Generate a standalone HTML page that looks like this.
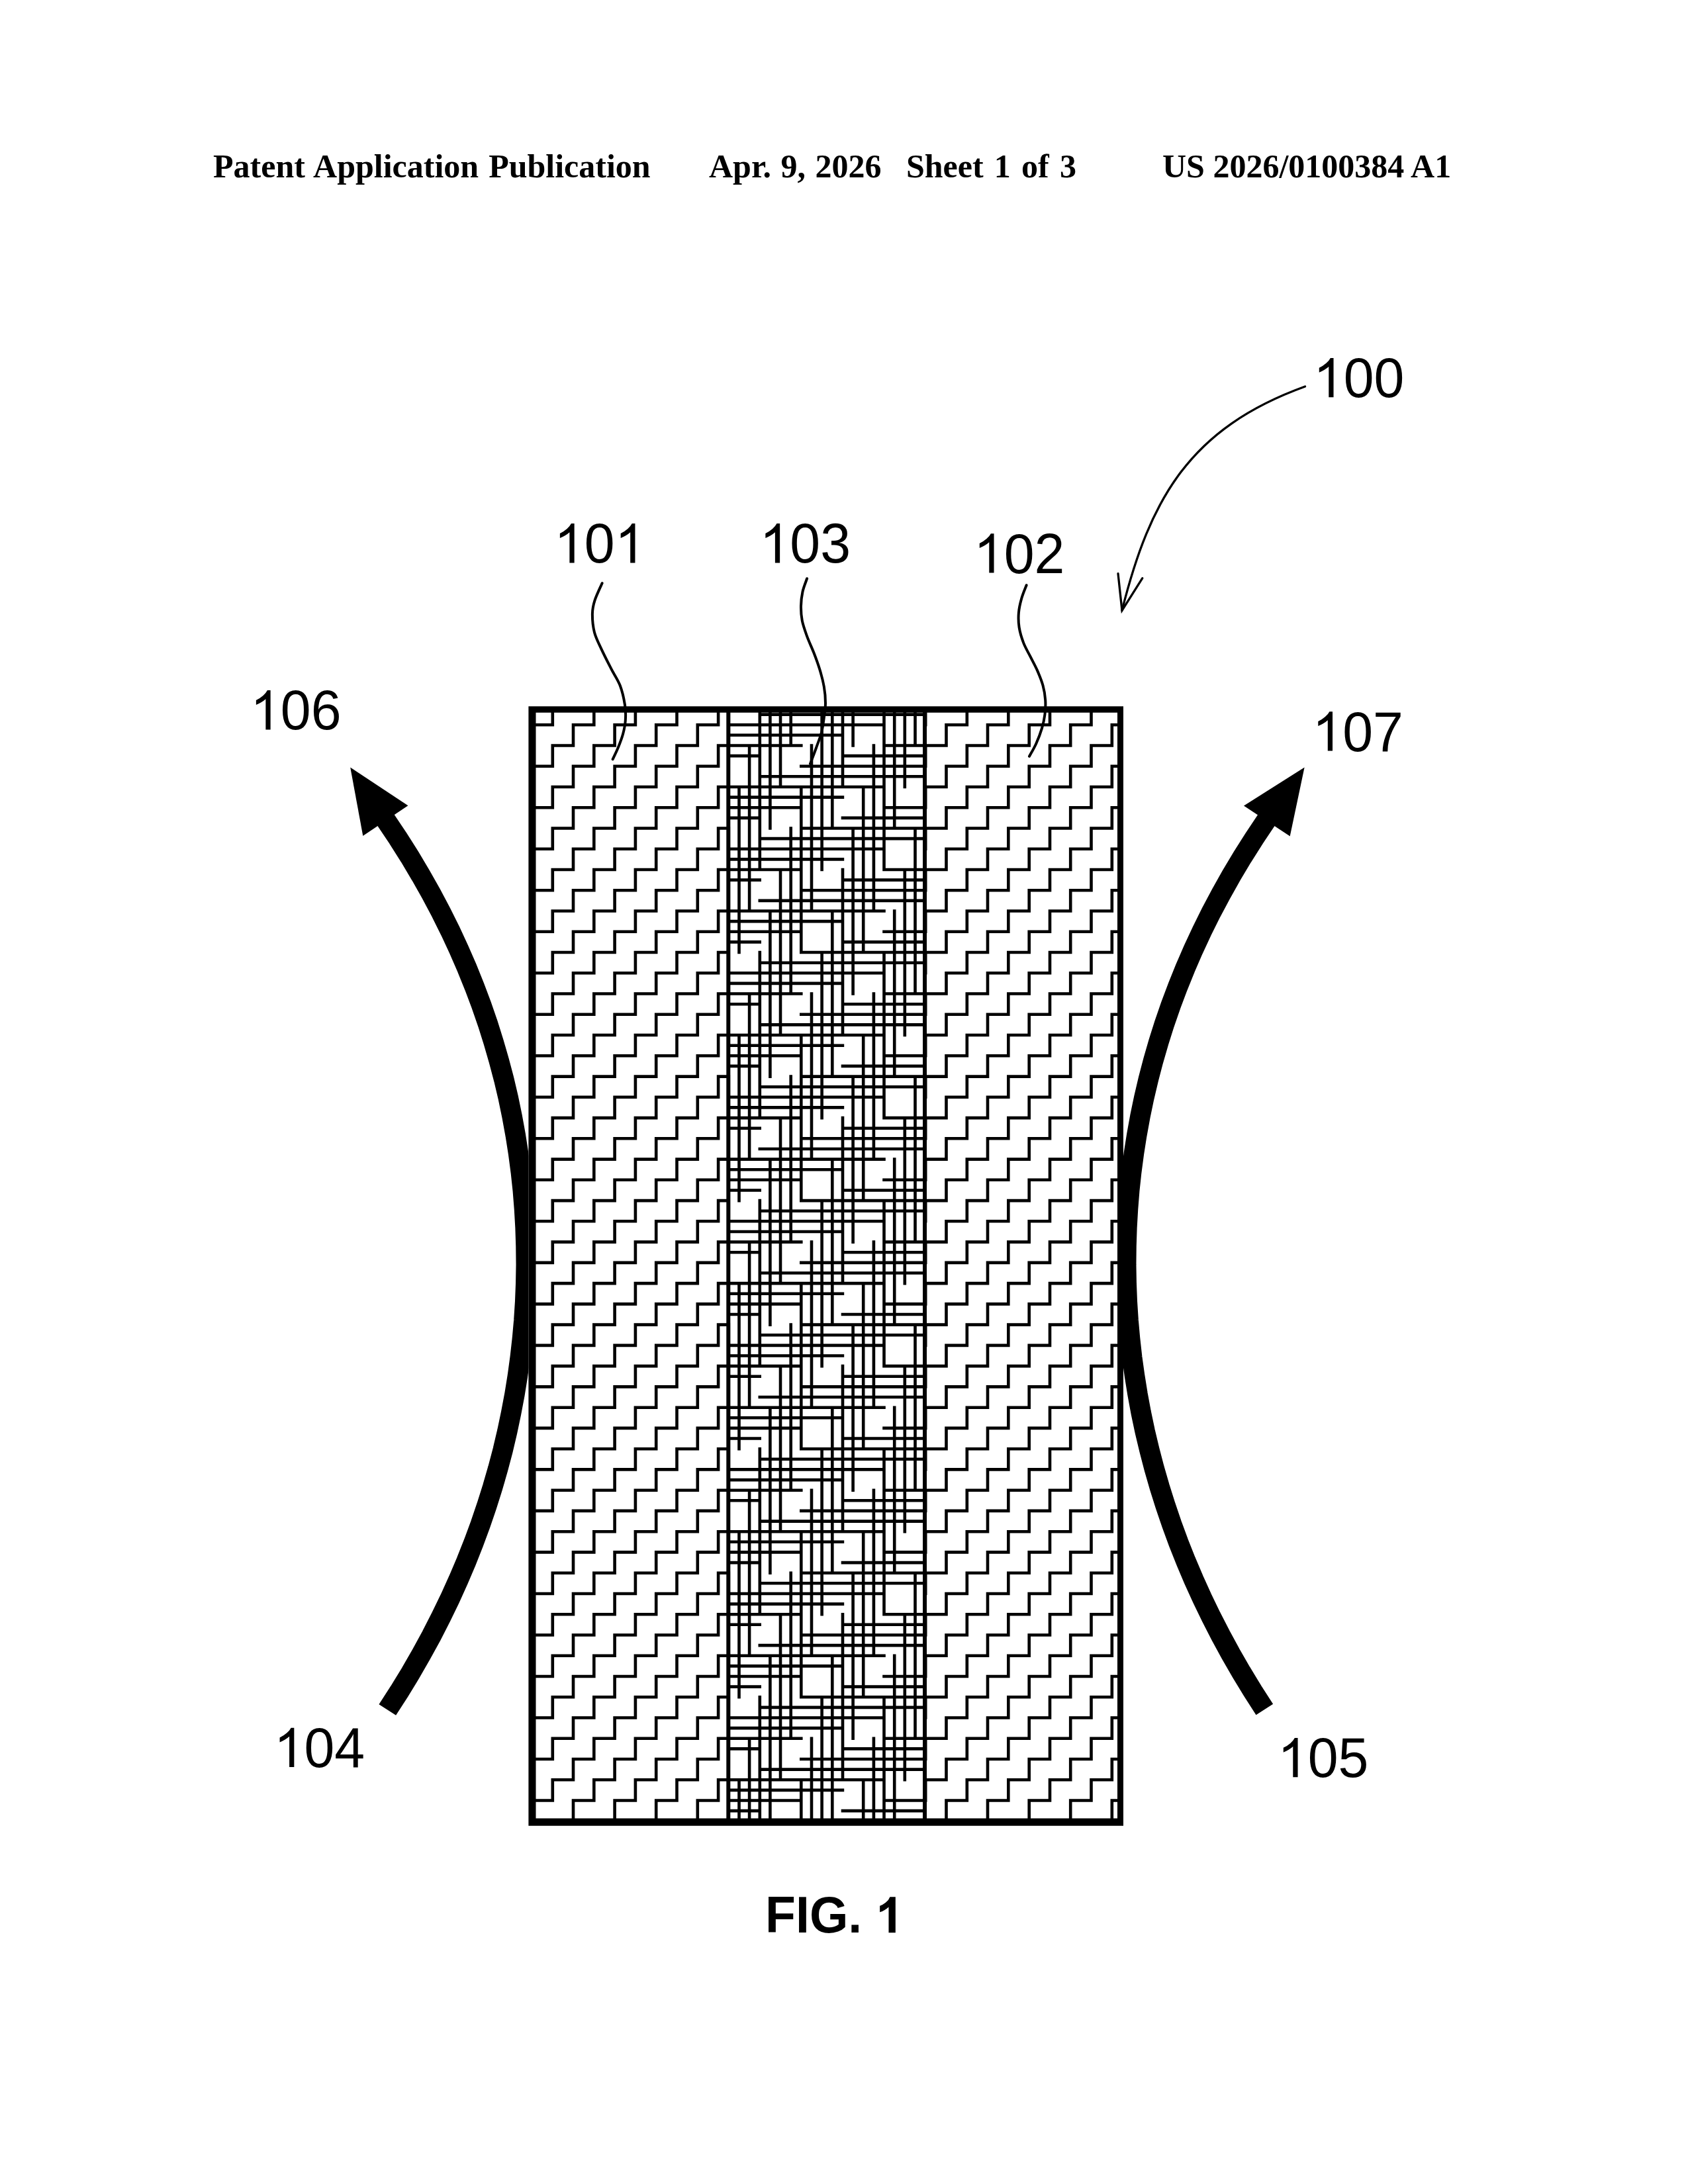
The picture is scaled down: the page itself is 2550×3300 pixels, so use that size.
<!DOCTYPE html>
<html lang="en"><head><meta charset="utf-8"><title>FIG. 1</title>
<style>
html,body{margin:0;padding:0;background:#fff;}
body{width:2550px;height:3300px;overflow:hidden;position:relative;}
svg{position:absolute;left:0;top:0;display:block;}
.hd{font-family:"Liberation Serif",serif;font-weight:bold;font-size:50px;fill:#000;}
.lb{font-family:"Liberation Sans",sans-serif;font-size:84px;fill:#000;}
.fg{font-family:"Liberation Sans",sans-serif;font-weight:bold;font-size:74px;fill:#000;}
</style></head><body>
<svg width="2550" height="3300" viewBox="0 0 2550 3300">
<defs>
<clipPath id="cl"><rect x="804" y="1072" width="296.3" height="1681"/></clipPath>
<clipPath id="cc"><rect x="1100.3" y="1072" width="296.7" height="1681"/></clipPath>
<clipPath id="cr"><rect x="1397" y="1072" width="295.5" height="1681"/></clipPath>
</defs>
<text class="hd" x="322" y="268" word-spacing="2.5">Patent Application Publication</text>
<text class="hd" x="1071" y="268" word-spacing="2">Apr. 9, 2026</text>
<text class="hd" x="1369" y="268" word-spacing="3.7">Sheet 1 of 3</text>
<text class="hd" x="1756" y="268">US 2026/0100384 A1</text>
<g fill="none" stroke="#000">
<path stroke-width="30.5" d="M585.3 2583.6L603.3 2555.6L620.4 2527.6L636.5 2499.5L651.8 2471.5L666.1 2443.5L679.7 2415.5L692.4 2387.4L704.3 2359.4L715.4 2331.4L725.7 2303.4L735.3 2275.3L744.1 2247.3L752.2 2219.3L759.6 2191.3L766.2 2163.3L772.1 2135.2L777.4 2107.2L781.9 2079.2L785.7 2051.2L788.9 2023.1L791.4 1995.1L793.2 1967.1L794.3 1939.1L794.8 1911L794.5 1883L793.6 1855L792 1827L789.8 1799L786.8 1770.9L783.1 1742.9L778.7 1714.9L773.6 1686.9L767.8 1658.8L761.2 1630.8L753.8 1602.8L745.7 1574.8L736.9 1546.8L727.2 1518.7L716.7 1490.7L705.4 1462.7L693.2 1434.7L680.2 1406.6L666.3 1378.6L651.4 1350.6L635.6 1322.6L618.9 1294.5L601.2 1266.5L582.4 1238.5"/>
<path stroke-width="30.5" d="M1910.3 2583L1892.3 2555L1875.3 2527L1859.2 2499L1844 2471L1829.6 2443L1816.1 2415L1803.4 2387L1791.5 2359L1780.4 2331L1770.1 2303L1760.6 2275L1751.8 2247L1743.7 2219L1736.4 2191L1729.7 2163L1723.8 2135L1718.6 2107L1714.1 2079L1710.2 2051L1707.1 2023L1704.6 1995L1702.8 1967L1701.7 1939L1701.2 1911L1701.5 1883L1702.4 1855L1704 1827L1706.2 1799L1709.2 1771L1712.9 1743L1717.3 1715L1722.4 1687L1728.2 1659L1734.8 1631L1742.1 1603L1750.2 1575L1759 1547L1768.7 1519L1779.2 1491L1790.5 1463L1802.6 1435L1815.6 1407L1829.5 1379L1844.4 1351L1860.1 1323L1876.8 1295L1894.5 1267L1913.2 1239"/>
</g>
<path fill="#000" d="M529.2 1159.5L616.4 1217.2L548.3 1263.1Z"/>
<path fill="#000" d="M1970.6 1159.5L1879 1217.5L1948.7 1263.4Z"/>
<rect x="798.4" y="1067.2" width="898.6" height="1691.6" fill="#fff"/>
<g fill="none" stroke="#000" stroke-width="4.6" stroke-linejoin="miter">
<path clip-path="url(#cl)" d="M740.8 1032.7L772.1 1032.7L772.1 1001.4L803.4 1001.4M740.8 1095.2L772.1 1095.2L772.1 1064L803.4 1064L803.4 1032.7L834.8 1032.7L834.8 1001.4L866 1001.4M740.8 1157.7L772.1 1157.7L772.1 1126.5L803.4 1126.5L803.4 1095.2L834.8 1095.2L834.8 1064L866 1064L866 1032.7L897.3 1032.7L897.3 1001.4L928.6 1001.4M740.8 1220.2L772.1 1220.2L772.1 1189L803.4 1189L803.4 1157.7L834.8 1157.7L834.8 1126.5L866 1126.5L866 1095.2L897.3 1095.2L897.3 1064L928.6 1064L928.6 1032.7L959.9 1032.7L959.9 1001.4L991.2 1001.4M740.8 1282.7L772.1 1282.7L772.1 1251.5L803.4 1251.5L803.4 1220.2L834.8 1220.2L834.8 1189L866 1189L866 1157.7L897.3 1157.7L897.3 1126.5L928.6 1126.5L928.6 1095.2L959.9 1095.2L959.9 1064L991.2 1064L991.2 1032.7L1022.5 1032.7L1022.5 1001.4L1053.8 1001.4M740.8 1345.3L772.1 1345.3L772.1 1314L803.4 1314L803.4 1282.7L834.8 1282.7L834.8 1251.5L866 1251.5L866 1220.2L897.3 1220.2L897.3 1189L928.6 1189L928.6 1157.7L959.9 1157.7L959.9 1126.5L991.2 1126.5L991.2 1095.2L1022.5 1095.2L1022.5 1064L1053.8 1064L1053.8 1032.7L1085.1 1032.7L1085.1 1001.4L1116.5 1001.4M740.8 1407.8L772.1 1407.8L772.1 1376.5L803.4 1376.5L803.4 1345.3L834.8 1345.3L834.8 1314L866 1314L866 1282.7L897.3 1282.7L897.3 1251.5L928.6 1251.5L928.6 1220.2L959.9 1220.2L959.9 1189L991.2 1189L991.2 1157.7L1022.5 1157.7L1022.5 1126.5L1053.8 1126.5L1053.8 1095.2L1085.1 1095.2L1085.1 1064L1116.5 1064L1116.5 1032.7L1147.8 1032.7L1147.8 1001.4L1179 1001.4M740.8 1470.3L772.1 1470.3L772.1 1439L803.4 1439L803.4 1407.8L834.8 1407.8L834.8 1376.5L866 1376.5L866 1345.3L897.3 1345.3L897.3 1314L928.6 1314L928.6 1282.7L959.9 1282.7L959.9 1251.5L991.2 1251.5L991.2 1220.2L1022.5 1220.2L1022.5 1189L1053.8 1189L1053.8 1157.7L1085.1 1157.7L1085.1 1126.5L1116.5 1126.5L1116.5 1095.2L1147.8 1095.2L1147.8 1064L1179 1064M740.8 1532.8L772.1 1532.8L772.1 1501.5L803.4 1501.5L803.4 1470.3L834.8 1470.3L834.8 1439L866 1439L866 1407.8L897.3 1407.8L897.3 1376.5L928.6 1376.5L928.6 1345.3L959.9 1345.3L959.9 1314L991.2 1314L991.2 1282.7L1022.5 1282.7L1022.5 1251.5L1053.8 1251.5L1053.8 1220.2L1085.1 1220.2L1085.1 1189L1116.5 1189L1116.5 1157.7L1147.8 1157.7L1147.8 1126.5L1179 1126.5M740.8 1595.3L772.1 1595.3L772.1 1564L803.4 1564L803.4 1532.8L834.8 1532.8L834.8 1501.5L866 1501.5L866 1470.3L897.3 1470.3L897.3 1439L928.6 1439L928.6 1407.8L959.9 1407.8L959.9 1376.5L991.2 1376.5L991.2 1345.3L1022.5 1345.3L1022.5 1314L1053.8 1314L1053.8 1282.7L1085.1 1282.7L1085.1 1251.5L1116.5 1251.5L1116.5 1220.2L1147.8 1220.2L1147.8 1189L1179 1189M740.8 1657.8L772.1 1657.8L772.1 1626.6L803.4 1626.6L803.4 1595.3L834.8 1595.3L834.8 1564L866 1564L866 1532.8L897.3 1532.8L897.3 1501.5L928.6 1501.5L928.6 1470.3L959.9 1470.3L959.9 1439L991.2 1439L991.2 1407.8L1022.5 1407.8L1022.5 1376.5L1053.8 1376.5L1053.8 1345.3L1085.1 1345.3L1085.1 1314L1116.5 1314L1116.5 1282.7L1147.8 1282.7L1147.8 1251.5L1179 1251.5M740.8 1720.3L772.1 1720.3L772.1 1689.1L803.4 1689.1L803.4 1657.8L834.8 1657.8L834.8 1626.6L866 1626.6L866 1595.3L897.3 1595.3L897.3 1564L928.6 1564L928.6 1532.8L959.9 1532.8L959.9 1501.5L991.2 1501.5L991.2 1470.3L1022.5 1470.3L1022.5 1439L1053.8 1439L1053.8 1407.8L1085.1 1407.8L1085.1 1376.5L1116.5 1376.5L1116.5 1345.3L1147.8 1345.3L1147.8 1314L1179 1314M740.8 1782.8L772.1 1782.8L772.1 1751.6L803.4 1751.6L803.4 1720.3L834.8 1720.3L834.8 1689.1L866 1689.1L866 1657.8L897.3 1657.8L897.3 1626.6L928.6 1626.6L928.6 1595.3L959.9 1595.3L959.9 1564L991.2 1564L991.2 1532.8L1022.5 1532.8L1022.5 1501.5L1053.8 1501.5L1053.8 1470.3L1085.1 1470.3L1085.1 1439L1116.5 1439L1116.5 1407.8L1147.8 1407.8L1147.8 1376.5L1179 1376.5M740.8 1845.3L772.1 1845.3L772.1 1814.1L803.4 1814.1L803.4 1782.8L834.8 1782.8L834.8 1751.6L866 1751.6L866 1720.3L897.3 1720.3L897.3 1689.1L928.6 1689.1L928.6 1657.8L959.9 1657.8L959.9 1626.6L991.2 1626.6L991.2 1595.3L1022.5 1595.3L1022.5 1564L1053.8 1564L1053.8 1532.8L1085.1 1532.8L1085.1 1501.5L1116.5 1501.5L1116.5 1470.3L1147.8 1470.3L1147.8 1439L1179 1439M740.8 1907.9L772.1 1907.9L772.1 1876.6L803.4 1876.6L803.4 1845.3L834.8 1845.3L834.8 1814.1L866 1814.1L866 1782.8L897.3 1782.8L897.3 1751.6L928.6 1751.6L928.6 1720.3L959.9 1720.3L959.9 1689.1L991.2 1689.1L991.2 1657.8L1022.5 1657.8L1022.5 1626.6L1053.8 1626.6L1053.8 1595.3L1085.1 1595.3L1085.1 1564L1116.5 1564L1116.5 1532.8L1147.8 1532.8L1147.8 1501.5L1179 1501.5M740.8 1970.4L772.1 1970.4L772.1 1939.1L803.4 1939.1L803.4 1907.9L834.8 1907.9L834.8 1876.6L866 1876.6L866 1845.3L897.3 1845.3L897.3 1814.1L928.6 1814.1L928.6 1782.8L959.9 1782.8L959.9 1751.6L991.2 1751.6L991.2 1720.3L1022.5 1720.3L1022.5 1689.1L1053.8 1689.1L1053.8 1657.8L1085.1 1657.8L1085.1 1626.6L1116.5 1626.6L1116.5 1595.3L1147.8 1595.3L1147.8 1564L1179 1564M740.8 2032.9L772.1 2032.9L772.1 2001.6L803.4 2001.6L803.4 1970.4L834.8 1970.4L834.8 1939.1L866 1939.1L866 1907.9L897.3 1907.9L897.3 1876.6L928.6 1876.6L928.6 1845.3L959.9 1845.3L959.9 1814.1L991.2 1814.1L991.2 1782.8L1022.5 1782.8L1022.5 1751.6L1053.8 1751.6L1053.8 1720.3L1085.1 1720.3L1085.1 1689.1L1116.5 1689.1L1116.5 1657.8L1147.8 1657.8L1147.8 1626.6L1179 1626.6M740.8 2095.4L772.1 2095.4L772.1 2064.1L803.4 2064.1L803.4 2032.9L834.8 2032.9L834.8 2001.6L866 2001.6L866 1970.4L897.3 1970.4L897.3 1939.1L928.6 1939.1L928.6 1907.9L959.9 1907.9L959.9 1876.6L991.2 1876.6L991.2 1845.3L1022.5 1845.3L1022.5 1814.1L1053.8 1814.1L1053.8 1782.8L1085.1 1782.8L1085.1 1751.6L1116.5 1751.6L1116.5 1720.3L1147.8 1720.3L1147.8 1689.1L1179 1689.1M740.8 2157.9L772.1 2157.9L772.1 2126.7L803.4 2126.7L803.4 2095.4L834.8 2095.4L834.8 2064.1L866 2064.1L866 2032.9L897.3 2032.9L897.3 2001.6L928.6 2001.6L928.6 1970.4L959.9 1970.4L959.9 1939.1L991.2 1939.1L991.2 1907.9L1022.5 1907.9L1022.5 1876.6L1053.8 1876.6L1053.8 1845.3L1085.1 1845.3L1085.1 1814.1L1116.5 1814.1L1116.5 1782.8L1147.8 1782.8L1147.8 1751.6L1179 1751.6M740.8 2220.4L772.1 2220.4L772.1 2189.2L803.4 2189.2L803.4 2157.9L834.8 2157.9L834.8 2126.7L866 2126.7L866 2095.4L897.3 2095.4L897.3 2064.1L928.6 2064.1L928.6 2032.9L959.9 2032.9L959.9 2001.6L991.2 2001.6L991.2 1970.4L1022.5 1970.4L1022.5 1939.1L1053.8 1939.1L1053.8 1907.9L1085.1 1907.9L1085.1 1876.6L1116.5 1876.6L1116.5 1845.3L1147.8 1845.3L1147.8 1814.1L1179 1814.1M740.8 2282.9L772.1 2282.9L772.1 2251.7L803.4 2251.7L803.4 2220.4L834.8 2220.4L834.8 2189.2L866 2189.2L866 2157.9L897.3 2157.9L897.3 2126.7L928.6 2126.7L928.6 2095.4L959.9 2095.4L959.9 2064.1L991.2 2064.1L991.2 2032.9L1022.5 2032.9L1022.5 2001.6L1053.8 2001.6L1053.8 1970.4L1085.1 1970.4L1085.1 1939.1L1116.5 1939.1L1116.5 1907.9L1147.8 1907.9L1147.8 1876.6L1179 1876.6M740.8 2345.4L772.1 2345.4L772.1 2314.2L803.4 2314.2L803.4 2282.9L834.8 2282.9L834.8 2251.7L866 2251.7L866 2220.4L897.3 2220.4L897.3 2189.2L928.6 2189.2L928.6 2157.9L959.9 2157.9L959.9 2126.7L991.2 2126.7L991.2 2095.4L1022.5 2095.4L1022.5 2064.1L1053.8 2064.1L1053.8 2032.9L1085.1 2032.9L1085.1 2001.6L1116.5 2001.6L1116.5 1970.4L1147.8 1970.4L1147.8 1939.1L1179 1939.1M740.8 2408L772.1 2408L772.1 2376.7L803.4 2376.7L803.4 2345.4L834.8 2345.4L834.8 2314.2L866 2314.2L866 2282.9L897.3 2282.9L897.3 2251.7L928.6 2251.7L928.6 2220.4L959.9 2220.4L959.9 2189.2L991.2 2189.2L991.2 2157.9L1022.5 2157.9L1022.5 2126.7L1053.8 2126.7L1053.8 2095.4L1085.1 2095.4L1085.1 2064.1L1116.5 2064.1L1116.5 2032.9L1147.8 2032.9L1147.8 2001.6L1179 2001.6M740.8 2470.5L772.1 2470.5L772.1 2439.2L803.4 2439.2L803.4 2408L834.8 2408L834.8 2376.7L866 2376.7L866 2345.4L897.3 2345.4L897.3 2314.2L928.6 2314.2L928.6 2282.9L959.9 2282.9L959.9 2251.7L991.2 2251.7L991.2 2220.4L1022.5 2220.4L1022.5 2189.2L1053.8 2189.2L1053.8 2157.9L1085.1 2157.9L1085.1 2126.7L1116.5 2126.7L1116.5 2095.4L1147.8 2095.4L1147.8 2064.1L1179 2064.1M740.8 2533L772.1 2533L772.1 2501.7L803.4 2501.7L803.4 2470.5L834.8 2470.5L834.8 2439.2L866 2439.2L866 2408L897.3 2408L897.3 2376.7L928.6 2376.7L928.6 2345.4L959.9 2345.4L959.9 2314.2L991.2 2314.2L991.2 2282.9L1022.5 2282.9L1022.5 2251.7L1053.8 2251.7L1053.8 2220.4L1085.1 2220.4L1085.1 2189.2L1116.5 2189.2L1116.5 2157.9L1147.8 2157.9L1147.8 2126.7L1179 2126.7M740.8 2595.5L772.1 2595.5L772.1 2564.2L803.4 2564.2L803.4 2533L834.8 2533L834.8 2501.7L866 2501.7L866 2470.5L897.3 2470.5L897.3 2439.2L928.6 2439.2L928.6 2408L959.9 2408L959.9 2376.7L991.2 2376.7L991.2 2345.4L1022.5 2345.4L1022.5 2314.2L1053.8 2314.2L1053.8 2282.9L1085.1 2282.9L1085.1 2251.7L1116.5 2251.7L1116.5 2220.4L1147.8 2220.4L1147.8 2189.2L1179 2189.2M740.8 2658L772.1 2658L772.1 2626.8L803.4 2626.8L803.4 2595.5L834.8 2595.5L834.8 2564.2L866 2564.2L866 2533L897.3 2533L897.3 2501.7L928.6 2501.7L928.6 2470.5L959.9 2470.5L959.9 2439.2L991.2 2439.2L991.2 2408L1022.5 2408L1022.5 2376.7L1053.8 2376.7L1053.8 2345.4L1085.1 2345.4L1085.1 2314.2L1116.5 2314.2L1116.5 2282.9L1147.8 2282.9L1147.8 2251.7L1179 2251.7M740.8 2720.5L772.1 2720.5L772.1 2689.3L803.4 2689.3L803.4 2658L834.8 2658L834.8 2626.8L866 2626.8L866 2595.5L897.3 2595.5L897.3 2564.2L928.6 2564.2L928.6 2533L959.9 2533L959.9 2501.7L991.2 2501.7L991.2 2470.5L1022.5 2470.5L1022.5 2439.2L1053.8 2439.2L1053.8 2408L1085.1 2408L1085.1 2376.7L1116.5 2376.7L1116.5 2345.4L1147.8 2345.4L1147.8 2314.2L1179 2314.2M740.8 2783L772.1 2783L772.1 2751.8L803.4 2751.8L803.4 2720.5L834.8 2720.5L834.8 2689.3L866 2689.3L866 2658L897.3 2658L897.3 2626.8L928.6 2626.8L928.6 2595.5L959.9 2595.5L959.9 2564.2L991.2 2564.2L991.2 2533L1022.5 2533L1022.5 2501.7L1053.8 2501.7L1053.8 2470.5L1085.1 2470.5L1085.1 2439.2L1116.5 2439.2L1116.5 2408L1147.8 2408L1147.8 2376.7L1179 2376.7M772.1 2814.3L803.4 2814.3L803.4 2783L834.8 2783L834.8 2751.8L866 2751.8L866 2720.5L897.3 2720.5L897.3 2689.3L928.6 2689.3L928.6 2658L959.9 2658L959.9 2626.8L991.2 2626.8L991.2 2595.5L1022.5 2595.5L1022.5 2564.2L1053.8 2564.2L1053.8 2533L1085.1 2533L1085.1 2501.7L1116.5 2501.7L1116.5 2470.5L1147.8 2470.5L1147.8 2439.2L1179 2439.2M834.8 2814.3L866 2814.3L866 2783L897.3 2783L897.3 2751.8L928.6 2751.8L928.6 2720.5L959.9 2720.5L959.9 2689.3L991.2 2689.3L991.2 2658L1022.5 2658L1022.5 2626.8L1053.8 2626.8L1053.8 2595.5L1085.1 2595.5L1085.1 2564.2L1116.5 2564.2L1116.5 2533L1147.8 2533L1147.8 2501.7L1179 2501.7M897.3 2814.3L928.6 2814.3L928.6 2783L959.9 2783L959.9 2751.8L991.2 2751.8L991.2 2720.5L1022.5 2720.5L1022.5 2689.3L1053.8 2689.3L1053.8 2658L1085.1 2658L1085.1 2626.8L1116.5 2626.8L1116.5 2595.5L1147.8 2595.5L1147.8 2564.2L1179 2564.2M959.9 2814.3L991.2 2814.3L991.2 2783L1022.5 2783L1022.5 2751.8L1053.8 2751.8L1053.8 2720.5L1085.1 2720.5L1085.1 2689.3L1116.5 2689.3L1116.5 2658L1147.8 2658L1147.8 2626.8L1179 2626.8M1022.5 2814.3L1053.8 2814.3L1053.8 2783L1085.1 2783L1085.1 2751.8L1116.5 2751.8L1116.5 2720.5L1147.8 2720.5L1147.8 2689.3L1179 2689.3M1085.1 2814.3L1116.5 2814.3L1116.5 2783L1147.8 2783L1147.8 2751.8L1179 2751.8M1147.8 2814.3L1179 2814.3"/>
<path clip-path="url(#cr)" d="M1366.8 1032.7L1398.2 1032.7L1398.2 1001.4L1429.5 1001.4M1366.8 1095.2L1398.2 1095.2L1398.2 1064L1429.5 1064L1429.5 1032.7L1460.8 1032.7L1460.8 1001.4L1492 1001.4M1366.8 1157.7L1398.2 1157.7L1398.2 1126.5L1429.5 1126.5L1429.5 1095.2L1460.8 1095.2L1460.8 1064L1492 1064L1492 1032.7L1523.3 1032.7L1523.3 1001.4L1554.7 1001.4M1366.8 1220.2L1398.2 1220.2L1398.2 1189L1429.5 1189L1429.5 1157.7L1460.8 1157.7L1460.8 1126.5L1492 1126.5L1492 1095.2L1523.3 1095.2L1523.3 1064L1554.7 1064L1554.7 1032.7L1586 1032.7L1586 1001.4L1617.2 1001.4M1366.8 1282.7L1398.2 1282.7L1398.2 1251.5L1429.5 1251.5L1429.5 1220.2L1460.8 1220.2L1460.8 1189L1492 1189L1492 1157.7L1523.3 1157.7L1523.3 1126.5L1554.7 1126.5L1554.7 1095.2L1586 1095.2L1586 1064L1617.2 1064L1617.2 1032.7L1648.5 1032.7L1648.5 1001.4L1679.8 1001.4M1366.8 1345.3L1398.2 1345.3L1398.2 1314L1429.5 1314L1429.5 1282.7L1460.8 1282.7L1460.8 1251.5L1492 1251.5L1492 1220.2L1523.3 1220.2L1523.3 1189L1554.7 1189L1554.7 1157.7L1586 1157.7L1586 1126.5L1617.2 1126.5L1617.2 1095.2L1648.5 1095.2L1648.5 1064L1679.8 1064L1679.8 1032.7L1711.2 1032.7L1711.2 1001.4L1742.4 1001.4M1366.8 1407.8L1398.2 1407.8L1398.2 1376.5L1429.5 1376.5L1429.5 1345.3L1460.8 1345.3L1460.8 1314L1492 1314L1492 1282.7L1523.3 1282.7L1523.3 1251.5L1554.7 1251.5L1554.7 1220.2L1586 1220.2L1586 1189L1617.2 1189L1617.2 1157.7L1648.5 1157.7L1648.5 1126.5L1679.8 1126.5L1679.8 1095.2L1711.2 1095.2L1711.2 1064L1742.4 1064L1742.4 1032.7L1773.8 1032.7L1773.8 1001.4L1805 1001.4M1366.8 1470.3L1398.2 1470.3L1398.2 1439L1429.5 1439L1429.5 1407.8L1460.8 1407.8L1460.8 1376.5L1492 1376.5L1492 1345.3L1523.3 1345.3L1523.3 1314L1554.7 1314L1554.7 1282.7L1586 1282.7L1586 1251.5L1617.2 1251.5L1617.2 1220.2L1648.5 1220.2L1648.5 1189L1679.8 1189L1679.8 1157.7L1711.2 1157.7L1711.2 1126.5L1742.4 1126.5L1742.4 1095.2L1773.8 1095.2L1773.8 1064L1805 1064M1366.8 1532.8L1398.2 1532.8L1398.2 1501.5L1429.5 1501.5L1429.5 1470.3L1460.8 1470.3L1460.8 1439L1492 1439L1492 1407.8L1523.3 1407.8L1523.3 1376.5L1554.7 1376.5L1554.7 1345.3L1586 1345.3L1586 1314L1617.2 1314L1617.2 1282.7L1648.5 1282.7L1648.5 1251.5L1679.8 1251.5L1679.8 1220.2L1711.2 1220.2L1711.2 1189L1742.4 1189L1742.4 1157.7L1773.8 1157.7L1773.8 1126.5L1805 1126.5M1366.8 1595.3L1398.2 1595.3L1398.2 1564L1429.5 1564L1429.5 1532.8L1460.8 1532.8L1460.8 1501.5L1492 1501.5L1492 1470.3L1523.3 1470.3L1523.3 1439L1554.7 1439L1554.7 1407.8L1586 1407.8L1586 1376.5L1617.2 1376.5L1617.2 1345.3L1648.5 1345.3L1648.5 1314L1679.8 1314L1679.8 1282.7L1711.2 1282.7L1711.2 1251.5L1742.4 1251.5L1742.4 1220.2L1773.8 1220.2L1773.8 1189L1805 1189M1366.8 1657.8L1398.2 1657.8L1398.2 1626.6L1429.5 1626.6L1429.5 1595.3L1460.8 1595.3L1460.8 1564L1492 1564L1492 1532.8L1523.3 1532.8L1523.3 1501.5L1554.7 1501.5L1554.7 1470.3L1586 1470.3L1586 1439L1617.2 1439L1617.2 1407.8L1648.5 1407.8L1648.5 1376.5L1679.8 1376.5L1679.8 1345.3L1711.2 1345.3L1711.2 1314L1742.4 1314L1742.4 1282.7L1773.8 1282.7L1773.8 1251.5L1805 1251.5M1366.8 1720.3L1398.2 1720.3L1398.2 1689.1L1429.5 1689.1L1429.5 1657.8L1460.8 1657.8L1460.8 1626.6L1492 1626.6L1492 1595.3L1523.3 1595.3L1523.3 1564L1554.7 1564L1554.7 1532.8L1586 1532.8L1586 1501.5L1617.2 1501.5L1617.2 1470.3L1648.5 1470.3L1648.5 1439L1679.8 1439L1679.8 1407.8L1711.2 1407.8L1711.2 1376.5L1742.4 1376.5L1742.4 1345.3L1773.8 1345.3L1773.8 1314L1805 1314M1366.8 1782.8L1398.2 1782.8L1398.2 1751.6L1429.5 1751.6L1429.5 1720.3L1460.8 1720.3L1460.8 1689.1L1492 1689.1L1492 1657.8L1523.3 1657.8L1523.3 1626.6L1554.7 1626.6L1554.7 1595.3L1586 1595.3L1586 1564L1617.2 1564L1617.2 1532.8L1648.5 1532.8L1648.5 1501.5L1679.8 1501.5L1679.8 1470.3L1711.2 1470.3L1711.2 1439L1742.4 1439L1742.4 1407.8L1773.8 1407.8L1773.8 1376.5L1805 1376.5M1366.8 1845.3L1398.2 1845.3L1398.2 1814.1L1429.5 1814.1L1429.5 1782.8L1460.8 1782.8L1460.8 1751.6L1492 1751.6L1492 1720.3L1523.3 1720.3L1523.3 1689.1L1554.7 1689.1L1554.7 1657.8L1586 1657.8L1586 1626.6L1617.2 1626.6L1617.2 1595.3L1648.5 1595.3L1648.5 1564L1679.8 1564L1679.8 1532.8L1711.2 1532.8L1711.2 1501.5L1742.4 1501.5L1742.4 1470.3L1773.8 1470.3L1773.8 1439L1805 1439M1366.8 1907.9L1398.2 1907.9L1398.2 1876.6L1429.5 1876.6L1429.5 1845.3L1460.8 1845.3L1460.8 1814.1L1492 1814.1L1492 1782.8L1523.3 1782.8L1523.3 1751.6L1554.7 1751.6L1554.7 1720.3L1586 1720.3L1586 1689.1L1617.2 1689.1L1617.2 1657.8L1648.5 1657.8L1648.5 1626.6L1679.8 1626.6L1679.8 1595.3L1711.2 1595.3L1711.2 1564L1742.4 1564L1742.4 1532.8L1773.8 1532.8L1773.8 1501.5L1805 1501.5M1366.8 1970.4L1398.2 1970.4L1398.2 1939.1L1429.5 1939.1L1429.5 1907.9L1460.8 1907.9L1460.8 1876.6L1492 1876.6L1492 1845.3L1523.3 1845.3L1523.3 1814.1L1554.7 1814.1L1554.7 1782.8L1586 1782.8L1586 1751.6L1617.2 1751.6L1617.2 1720.3L1648.5 1720.3L1648.5 1689.1L1679.8 1689.1L1679.8 1657.8L1711.2 1657.8L1711.2 1626.6L1742.4 1626.6L1742.4 1595.3L1773.8 1595.3L1773.8 1564L1805 1564M1366.8 2032.9L1398.2 2032.9L1398.2 2001.6L1429.5 2001.6L1429.5 1970.4L1460.8 1970.4L1460.8 1939.1L1492 1939.1L1492 1907.9L1523.3 1907.9L1523.3 1876.6L1554.7 1876.6L1554.7 1845.3L1586 1845.3L1586 1814.1L1617.2 1814.1L1617.2 1782.8L1648.5 1782.8L1648.5 1751.6L1679.8 1751.6L1679.8 1720.3L1711.2 1720.3L1711.2 1689.1L1742.4 1689.1L1742.4 1657.8L1773.8 1657.8L1773.8 1626.6L1805 1626.6M1366.8 2095.4L1398.2 2095.4L1398.2 2064.1L1429.5 2064.1L1429.5 2032.9L1460.8 2032.9L1460.8 2001.6L1492 2001.6L1492 1970.4L1523.3 1970.4L1523.3 1939.1L1554.7 1939.1L1554.7 1907.9L1586 1907.9L1586 1876.6L1617.2 1876.6L1617.2 1845.3L1648.5 1845.3L1648.5 1814.1L1679.8 1814.1L1679.8 1782.8L1711.2 1782.8L1711.2 1751.6L1742.4 1751.6L1742.4 1720.3L1773.8 1720.3L1773.8 1689.1L1805 1689.1M1366.8 2157.9L1398.2 2157.9L1398.2 2126.7L1429.5 2126.7L1429.5 2095.4L1460.8 2095.4L1460.8 2064.1L1492 2064.1L1492 2032.9L1523.3 2032.9L1523.3 2001.6L1554.7 2001.6L1554.7 1970.4L1586 1970.4L1586 1939.1L1617.2 1939.1L1617.2 1907.9L1648.5 1907.9L1648.5 1876.6L1679.8 1876.6L1679.8 1845.3L1711.2 1845.3L1711.2 1814.1L1742.4 1814.1L1742.4 1782.8L1773.8 1782.8L1773.8 1751.6L1805 1751.6M1366.8 2220.4L1398.2 2220.4L1398.2 2189.2L1429.5 2189.2L1429.5 2157.9L1460.8 2157.9L1460.8 2126.7L1492 2126.7L1492 2095.4L1523.3 2095.4L1523.3 2064.1L1554.7 2064.1L1554.7 2032.9L1586 2032.9L1586 2001.6L1617.2 2001.6L1617.2 1970.4L1648.5 1970.4L1648.5 1939.1L1679.8 1939.1L1679.8 1907.9L1711.2 1907.9L1711.2 1876.6L1742.4 1876.6L1742.4 1845.3L1773.8 1845.3L1773.8 1814.1L1805 1814.1M1366.8 2282.9L1398.2 2282.9L1398.2 2251.7L1429.5 2251.7L1429.5 2220.4L1460.8 2220.4L1460.8 2189.2L1492 2189.2L1492 2157.9L1523.3 2157.9L1523.3 2126.7L1554.7 2126.7L1554.7 2095.4L1586 2095.4L1586 2064.1L1617.2 2064.1L1617.2 2032.9L1648.5 2032.9L1648.5 2001.6L1679.8 2001.6L1679.8 1970.4L1711.2 1970.4L1711.2 1939.1L1742.4 1939.1L1742.4 1907.9L1773.8 1907.9L1773.8 1876.6L1805 1876.6M1366.8 2345.4L1398.2 2345.4L1398.2 2314.2L1429.5 2314.2L1429.5 2282.9L1460.8 2282.9L1460.8 2251.7L1492 2251.7L1492 2220.4L1523.3 2220.4L1523.3 2189.2L1554.7 2189.2L1554.7 2157.9L1586 2157.9L1586 2126.7L1617.2 2126.7L1617.2 2095.4L1648.5 2095.4L1648.5 2064.1L1679.8 2064.1L1679.8 2032.9L1711.2 2032.9L1711.2 2001.6L1742.4 2001.6L1742.4 1970.4L1773.8 1970.4L1773.8 1939.1L1805 1939.1M1366.8 2408L1398.2 2408L1398.2 2376.7L1429.5 2376.7L1429.5 2345.4L1460.8 2345.4L1460.8 2314.2L1492 2314.2L1492 2282.9L1523.3 2282.9L1523.3 2251.7L1554.7 2251.7L1554.7 2220.4L1586 2220.4L1586 2189.2L1617.2 2189.2L1617.2 2157.9L1648.5 2157.9L1648.5 2126.7L1679.8 2126.7L1679.8 2095.4L1711.2 2095.4L1711.2 2064.1L1742.4 2064.1L1742.4 2032.9L1773.8 2032.9L1773.8 2001.6L1805 2001.6M1366.8 2470.5L1398.2 2470.5L1398.2 2439.2L1429.5 2439.2L1429.5 2408L1460.8 2408L1460.8 2376.7L1492 2376.7L1492 2345.4L1523.3 2345.4L1523.3 2314.2L1554.7 2314.2L1554.7 2282.9L1586 2282.9L1586 2251.7L1617.2 2251.7L1617.2 2220.4L1648.5 2220.4L1648.5 2189.2L1679.8 2189.2L1679.8 2157.9L1711.2 2157.9L1711.2 2126.7L1742.4 2126.7L1742.4 2095.4L1773.8 2095.4L1773.8 2064.1L1805 2064.1M1366.8 2533L1398.2 2533L1398.2 2501.7L1429.5 2501.7L1429.5 2470.5L1460.8 2470.5L1460.8 2439.2L1492 2439.2L1492 2408L1523.3 2408L1523.3 2376.7L1554.7 2376.7L1554.7 2345.4L1586 2345.4L1586 2314.2L1617.2 2314.2L1617.2 2282.9L1648.5 2282.9L1648.5 2251.7L1679.8 2251.7L1679.8 2220.4L1711.2 2220.4L1711.2 2189.2L1742.4 2189.2L1742.4 2157.9L1773.8 2157.9L1773.8 2126.7L1805 2126.7M1366.8 2595.5L1398.2 2595.5L1398.2 2564.2L1429.5 2564.2L1429.5 2533L1460.8 2533L1460.8 2501.7L1492 2501.7L1492 2470.5L1523.3 2470.5L1523.3 2439.2L1554.7 2439.2L1554.7 2408L1586 2408L1586 2376.7L1617.2 2376.7L1617.2 2345.4L1648.5 2345.4L1648.5 2314.2L1679.8 2314.2L1679.8 2282.9L1711.2 2282.9L1711.2 2251.7L1742.4 2251.7L1742.4 2220.4L1773.8 2220.4L1773.8 2189.2L1805 2189.2M1366.8 2658L1398.2 2658L1398.2 2626.8L1429.5 2626.8L1429.5 2595.5L1460.8 2595.5L1460.8 2564.2L1492 2564.2L1492 2533L1523.3 2533L1523.3 2501.7L1554.7 2501.7L1554.7 2470.5L1586 2470.5L1586 2439.2L1617.2 2439.2L1617.2 2408L1648.5 2408L1648.5 2376.7L1679.8 2376.7L1679.8 2345.4L1711.2 2345.4L1711.2 2314.2L1742.4 2314.2L1742.4 2282.9L1773.8 2282.9L1773.8 2251.7L1805 2251.7M1366.8 2720.5L1398.2 2720.5L1398.2 2689.3L1429.5 2689.3L1429.5 2658L1460.8 2658L1460.8 2626.8L1492 2626.8L1492 2595.5L1523.3 2595.5L1523.3 2564.2L1554.7 2564.2L1554.7 2533L1586 2533L1586 2501.7L1617.2 2501.7L1617.2 2470.5L1648.5 2470.5L1648.5 2439.2L1679.8 2439.2L1679.8 2408L1711.2 2408L1711.2 2376.7L1742.4 2376.7L1742.4 2345.4L1773.8 2345.4L1773.8 2314.2L1805 2314.2M1366.8 2783L1398.2 2783L1398.2 2751.8L1429.5 2751.8L1429.5 2720.5L1460.8 2720.5L1460.8 2689.3L1492 2689.3L1492 2658L1523.3 2658L1523.3 2626.8L1554.7 2626.8L1554.7 2595.5L1586 2595.5L1586 2564.2L1617.2 2564.2L1617.2 2533L1648.5 2533L1648.5 2501.7L1679.8 2501.7L1679.8 2470.5L1711.2 2470.5L1711.2 2439.2L1742.4 2439.2L1742.4 2408L1773.8 2408L1773.8 2376.7L1805 2376.7M1398.2 2814.3L1429.5 2814.3L1429.5 2783L1460.8 2783L1460.8 2751.8L1492 2751.8L1492 2720.5L1523.3 2720.5L1523.3 2689.3L1554.7 2689.3L1554.7 2658L1586 2658L1586 2626.8L1617.2 2626.8L1617.2 2595.5L1648.5 2595.5L1648.5 2564.2L1679.8 2564.2L1679.8 2533L1711.2 2533L1711.2 2501.7L1742.4 2501.7L1742.4 2470.5L1773.8 2470.5L1773.8 2439.2L1805 2439.2M1460.8 2814.3L1492 2814.3L1492 2783L1523.3 2783L1523.3 2751.8L1554.7 2751.8L1554.7 2720.5L1586 2720.5L1586 2689.3L1617.2 2689.3L1617.2 2658L1648.5 2658L1648.5 2626.8L1679.8 2626.8L1679.8 2595.5L1711.2 2595.5L1711.2 2564.2L1742.4 2564.2L1742.4 2533L1773.8 2533L1773.8 2501.7L1805 2501.7M1523.3 2814.3L1554.7 2814.3L1554.7 2783L1586 2783L1586 2751.8L1617.2 2751.8L1617.2 2720.5L1648.5 2720.5L1648.5 2689.3L1679.8 2689.3L1679.8 2658L1711.2 2658L1711.2 2626.8L1742.4 2626.8L1742.4 2595.5L1773.8 2595.5L1773.8 2564.2L1805 2564.2M1586 2814.3L1617.2 2814.3L1617.2 2783L1648.5 2783L1648.5 2751.8L1679.8 2751.8L1679.8 2720.5L1711.2 2720.5L1711.2 2689.3L1742.4 2689.3L1742.4 2658L1773.8 2658L1773.8 2626.8L1805 2626.8M1648.5 2814.3L1679.8 2814.3L1679.8 2783L1711.2 2783L1711.2 2751.8L1742.4 2751.8L1742.4 2720.5L1773.8 2720.5L1773.8 2689.3L1805 2689.3M1711.2 2814.3L1742.4 2814.3L1742.4 2783L1773.8 2783L1773.8 2751.8L1805 2751.8M1773.8 2814.3L1805 2814.3"/>
</g>
<path clip-path="url(#cc)" fill="none" stroke="#000" stroke-width="4.6" d="M1208 1064H1398.2M1145.5 1079.6H1400.5M1100.8 1095.2H1337.8M1100.8 1110.8H1275.2M1100.8 1126.5H1212.6M1333.2 1126.5H1398.2M1100.8 1142.1H1150M1270.7 1142.1H1398.2M1208 1157.7H1398.2M1145.5 1173.3H1400.5M1100.8 1189H1337.8M1100.8 1204.6H1275.2M1100.8 1220.2H1212.6M1333.2 1220.2H1398.2M1100.8 1235.9H1150M1270.7 1235.9H1398.2M1208 1251.5H1398.2M1145.5 1267.1H1400.5M1100.8 1282.7H1337.8M1100.8 1298.4H1275.2M1100.8 1314H1212.6M1333.2 1314H1398.2M1100.8 1329.6H1150M1270.7 1329.6H1398.2M1208 1345.3H1398.2M1145.5 1360.9H1400.5M1100.8 1376.5H1337.8M1100.8 1392.1H1275.2M1100.8 1407.8H1212.6M1333.2 1407.8H1398.2M1100.8 1423.4H1150M1270.7 1423.4H1398.2M1208 1439H1398.2M1145.5 1454.7H1400.5M1100.8 1470.3H1337.8M1100.8 1485.9H1275.2M1100.8 1501.5H1212.6M1333.2 1501.5H1398.2M1100.8 1517.2H1150M1270.7 1517.2H1398.2M1208 1532.8H1398.2M1145.5 1548.4H1400.5M1100.8 1564H1337.8M1100.8 1579.7H1275.2M1100.8 1595.3H1212.6M1333.2 1595.3H1398.2M1100.8 1610.9H1150M1270.7 1610.9H1398.2M1208 1626.6H1398.2M1145.5 1642.2H1400.5M1100.8 1657.8H1337.8M1100.8 1673.4H1275.2M1100.8 1689.1H1212.6M1333.2 1689.1H1398.2M1100.8 1704.7H1150M1270.7 1704.7H1398.2M1208 1720.3H1398.2M1145.5 1736H1400.5M1100.8 1751.6H1337.8M1100.8 1767.2H1275.2M1100.8 1782.8H1212.6M1333.2 1782.8H1398.2M1100.8 1798.5H1150M1270.7 1798.5H1398.2M1208 1814.1H1398.2M1145.5 1829.7H1400.5M1100.8 1845.3H1337.8M1100.8 1861H1275.2M1100.8 1876.6H1212.6M1333.2 1876.6H1398.2M1100.8 1892.2H1150M1270.7 1892.2H1398.2M1208 1907.9H1398.2M1145.5 1923.5H1400.5M1100.8 1939.1H1337.8M1100.8 1954.7H1275.2M1100.8 1970.4H1212.6M1333.2 1970.4H1398.2M1100.8 1986H1150M1270.7 1986H1398.2M1208 2001.6H1398.2M1145.5 2017.3H1400.5M1100.8 2032.9H1337.8M1100.8 2048.5H1275.2M1100.8 2064.1H1212.6M1333.2 2064.1H1398.2M1100.8 2079.8H1150M1270.7 2079.8H1398.2M1208 2095.4H1398.2M1145.5 2111H1400.5M1100.8 2126.7H1337.8M1100.8 2142.3H1275.2M1100.8 2157.9H1212.6M1333.2 2157.9H1398.2M1100.8 2173.5H1150M1270.7 2173.5H1398.2M1208 2189.2H1398.2M1145.5 2204.8H1400.5M1100.8 2220.4H1337.8M1100.8 2236.1H1275.2M1100.8 2251.7H1212.6M1333.2 2251.7H1398.2M1100.8 2267.3H1150M1270.7 2267.3H1398.2M1208 2282.9H1398.2M1145.5 2298.6H1400.5M1100.8 2314.2H1337.8M1100.8 2329.8H1275.2M1100.8 2345.4H1212.6M1333.2 2345.4H1398.2M1100.8 2361.1H1150M1270.7 2361.1H1398.2M1208 2376.7H1398.2M1145.5 2392.3H1400.5M1100.8 2408H1337.8M1100.8 2423.6H1275.2M1100.8 2439.2H1212.6M1333.2 2439.2H1398.2M1100.8 2454.8H1150M1270.7 2454.8H1398.2M1208 2470.5H1398.2M1145.5 2486.1H1400.5M1100.8 2501.7H1337.8M1100.8 2517.4H1275.2M1100.8 2533H1212.6M1333.2 2533H1398.2M1100.8 2548.6H1150M1270.7 2548.6H1398.2M1208 2564.2H1398.2M1145.5 2579.9H1400.5M1100.8 2595.5H1337.8M1100.8 2611.1H1275.2M1100.8 2626.8H1212.6M1333.2 2626.8H1398.2M1100.8 2642.4H1150M1270.7 2642.4H1398.2M1208 2658H1398.2M1145.5 2673.6H1400.5M1100.8 2689.3H1337.8M1100.8 2704.9H1275.2M1100.8 2720.5H1212.6M1333.2 2720.5H1398.2M1100.8 2736.1H1150M1270.7 2736.1H1398.2M1208 2751.8H1398.2M1145.5 2767.4H1400.5M1100.8 1064V1128.8M1100.8 1249.2V1503.8M1100.8 1624.3V1878.9M1100.8 1999.3V2254M1100.8 2374.4V2629.1M1100.8 2749.5V2767.4M1116.5 1186.7V1441.3M1116.5 1561.7V1816.4M1116.5 1936.8V2191.5M1116.5 2311.9V2566.5M1116.5 2687V2767.4M1132.1 1124.2V1378.8M1132.1 1499.2V1753.9M1132.1 1874.3V2129M1132.1 2249.4V2504M1132.1 2624.4V2767.4M1147.8 1061.7V1316.3M1147.8 1436.7V1691.4M1147.8 1811.8V2066.4M1147.8 2186.9V2441.5M1147.8 2561.9V2767.4M1163.4 1064V1253.8M1163.4 1374.2V1628.9M1163.4 1749.3V2003.9M1163.4 2124.4V2379M1163.4 2499.4V2754.1M1179 1064V1191.3M1179 1311.7V1566.3M1179 1686.8V1941.4M1179 2061.8V2316.5M1179 2436.9V2691.6M1194.7 1064V1128.8M1194.7 1249.2V1503.8M1194.7 1624.3V1878.9M1194.7 1999.3V2254M1194.7 2374.4V2629.1M1194.7 2749.5V2767.4M1210.3 1186.7V1441.3M1210.3 1561.7V1816.4M1210.3 1936.8V2191.5M1210.3 2311.9V2566.5M1210.3 2687V2767.4M1226 1124.2V1378.8M1226 1499.2V1753.9M1226 1874.3V2129M1226 2249.4V2504M1226 2624.4V2767.4M1241.6 1061.7V1316.3M1241.6 1436.7V1691.4M1241.6 1811.8V2066.4M1241.6 2186.9V2441.5M1241.6 2561.9V2767.4M1257.3 1064V1253.8M1257.3 1374.2V1628.9M1257.3 1749.3V2003.9M1257.3 2124.4V2379M1257.3 2499.4V2754.1M1273 1064V1191.3M1273 1311.7V1566.3M1273 1686.8V1941.4M1273 2061.8V2316.5M1273 2436.9V2691.6M1288.6 1064V1128.8M1288.6 1249.2V1503.8M1288.6 1624.3V1878.9M1288.6 1999.3V2254M1288.6 2374.4V2629.1M1288.6 2749.5V2767.4M1304.2 1186.7V1441.3M1304.2 1561.7V1816.4M1304.2 1936.8V2191.5M1304.2 2311.9V2566.5M1304.2 2687V2767.4M1319.9 1124.2V1378.8M1319.9 1499.2V1753.9M1319.9 1874.3V2129M1319.9 2249.4V2504M1319.9 2624.4V2767.4M1335.5 1061.7V1316.3M1335.5 1436.7V1691.4M1335.5 1811.8V2066.4M1335.5 2186.9V2441.5M1335.5 2561.9V2767.4M1351.2 1064V1253.8M1351.2 1374.2V1628.9M1351.2 1749.3V2003.9M1351.2 2124.4V2379M1351.2 2499.4V2754.1M1366.8 1064V1191.3M1366.8 1311.7V1566.3M1366.8 1686.8V1941.4M1366.8 2061.8V2316.5M1366.8 2436.9V2691.6M1382.5 1064V1128.8M1382.5 1249.2V1503.8M1382.5 1624.3V1878.9M1382.5 1999.3V2254M1382.5 2374.4V2629.1M1382.5 2749.5V2767.4M1398.2 1186.7V1441.3M1398.2 1561.7V1816.4M1398.2 1936.8V2191.5M1398.2 2311.9V2566.5M1398.2 2687V2767.4"/>
<path fill="none" stroke="#000" stroke-width="6" d="M1100.3 1072V2753M1397 1072V2753"/>
<path fill="#000" d="M798.4 1067.2H1697V2758.8H798.4ZM809.5 1076.7V2747.5H1688V1076.7Z" fill-rule="evenodd"/>
<g fill="none" stroke="#000" stroke-width="4" stroke-linecap="round">
<path d="M909.6 881.2C907.8 885.5 901.1 899.2 898.6 906.9C896.1 914.6 895 919.3 894.9 927.4C894.8 935.5 895.6 946.2 897.9 955.2C900.2 964.2 904.6 972.3 908.9 981.6C913.2 990.9 918.9 1001.9 923.5 1010.9C928.1 1019.9 933.3 1026.8 936.7 1035.8C940.1 1044.8 942.6 1056.3 944 1065.1C945.4 1073.9 945.3 1081.3 944.8 1088.6C944.3 1095.9 942.9 1102.3 941.1 1109.1C939.3 1115.9 936.4 1123.2 933.8 1129.6C931.2 1135.9 927.1 1144.3 925.7 1147.2"/>
<path d="M1219.1 874.2C1218 877.5 1214 887 1212.5 894C1211 901 1210.1 908.6 1210 915.9C1209.9 923.2 1210.3 930.3 1211.8 937.9C1213.3 945.5 1216.2 953.3 1219.1 961.4C1222 969.5 1226.2 978 1229.4 986.3C1232.6 994.6 1235.6 1002.7 1238.2 1011.2C1240.8 1019.7 1243.3 1029 1244.8 1037.5C1246.3 1046 1247 1054.7 1247 1062.5C1247 1070.3 1245.8 1077.1 1244.8 1084.4C1243.8 1091.7 1243.1 1098.8 1241.1 1106.4C1239.1 1114 1235.8 1122.1 1233 1130C1230.2 1137.9 1225.5 1150 1224 1154"/>
<path d="M1550.6 884.2C1549.4 887.5 1545.2 897 1543.3 904C1541.3 911 1539.5 918.6 1538.9 925.9C1538.3 933.2 1538.4 940.3 1539.6 947.9C1540.8 955.5 1543.4 964.1 1546.2 971.4C1549 978.7 1553 985.1 1556.4 991.9C1559.8 998.7 1563.5 1005.1 1566.7 1012.4C1569.9 1019.7 1573.4 1028.2 1575.5 1035.8C1577.6 1043.4 1578.7 1050.5 1579.2 1057.8C1579.7 1065.1 1579.3 1072.7 1578.4 1079.8C1577.5 1086.9 1576.2 1093 1574 1100.3C1571.8 1107.6 1568.4 1116.6 1565.2 1123.7C1562 1130.8 1556.7 1139.6 1555 1142.8"/>
<path stroke-width="3.3" d="M1971.5 584C1797.1 647.2 1737.4 753.5 1695 922.3"/>
<path stroke-width="3.3" d="M1689 866.6L1695 922.3L1725.8 873.7"/>
</g>
<path fill="#000" transform="translate(1983.8 600.2) scale(0.04028 -0.04028)" d="M763 0H583V1147Q518 1085 412.5 1023T223 930V1104Q374 1175 487 1276T647 1472H763Z"/>
<text transform="translate(2029.7 600.2) scale(0.9611 1)" font-family="Liberation Sans, sans-serif" font-size="85.8" fill="#000">00</text>
<path fill="#000" transform="translate(836.9 850.4) scale(0.04028 -0.04028)" d="M763 0H583V1147Q518 1085 412.5 1023T223 930V1104Q374 1175 487 1276T647 1472H763Z"/>
<text transform="translate(882.8 850.4) scale(0.9611 1)" font-family="Liberation Sans, sans-serif" font-size="85.8" fill="#000">0</text>
<path fill="#000" transform="translate(928.7 850.4) scale(0.04028 -0.04028)" d="M763 0H583V1147Q518 1085 412.5 1023T223 930V1104Q374 1175 487 1276T647 1472H763Z"/>
<path fill="#000" transform="translate(1147.4 850.4) scale(0.04028 -0.04028)" d="M763 0H583V1147Q518 1085 412.5 1023T223 930V1104Q374 1175 487 1276T647 1472H763Z"/>
<text transform="translate(1193.3 850.4) scale(0.9611 1)" font-family="Liberation Sans, sans-serif" font-size="85.8" fill="#000">03</text>
<path fill="#000" transform="translate(1470.8 865.5) scale(0.04028 -0.04028)" d="M763 0H583V1147Q518 1085 412.5 1023T223 930V1104Q374 1175 487 1276T647 1472H763Z"/>
<text transform="translate(1516.7 865.5) scale(0.9611 1)" font-family="Liberation Sans, sans-serif" font-size="85.8" fill="#000">02</text>
<path fill="#000" transform="translate(377.9 1102.4) scale(0.04028 -0.04028)" d="M763 0H583V1147Q518 1085 412.5 1023T223 930V1104Q374 1175 487 1276T647 1472H763Z"/>
<text transform="translate(423.8 1102.4) scale(0.9611 1)" font-family="Liberation Sans, sans-serif" font-size="85.8" fill="#000">06</text>
<path fill="#000" transform="translate(1982.3 1134.5) scale(0.04028 -0.04028)" d="M763 0H583V1147Q518 1085 412.5 1023T223 930V1104Q374 1175 487 1276T647 1472H763Z"/>
<text transform="translate(2028.2 1134.5) scale(0.9611 1)" font-family="Liberation Sans, sans-serif" font-size="85.8" fill="#000">07</text>
<path fill="#000" transform="translate(413.6 2670) scale(0.04028 -0.04028)" d="M763 0H583V1147Q518 1085 412.5 1023T223 930V1104Q374 1175 487 1276T647 1472H763Z"/>
<text transform="translate(459.5 2670) scale(0.9611 1)" font-family="Liberation Sans, sans-serif" font-size="85.8" fill="#000">04</text>
<path fill="#000" transform="translate(1929.8 2685.3) scale(0.04028 -0.04028)" d="M763 0H583V1147Q518 1085 412.5 1023T223 930V1104Q374 1175 487 1276T647 1472H763Z"/>
<text transform="translate(1975.7 2685.3) scale(0.9611 1)" font-family="Liberation Sans, sans-serif" font-size="85.8" fill="#000">05</text>
<text transform="translate(1156.1 2920.3) scale(0.9611 1)" font-family="Liberation Sans, sans-serif" font-weight="bold" font-size="78.2" fill="#000">FIG.</text>
<path fill="#000" transform="translate(1323.2 2920.3) scale(0.03672 -0.03672)" d="M806 0H525V1059Q371 915 162 846V1101Q272 1137 401 1237.5T578 1472H806Z"/>
</svg>
</body></html>
